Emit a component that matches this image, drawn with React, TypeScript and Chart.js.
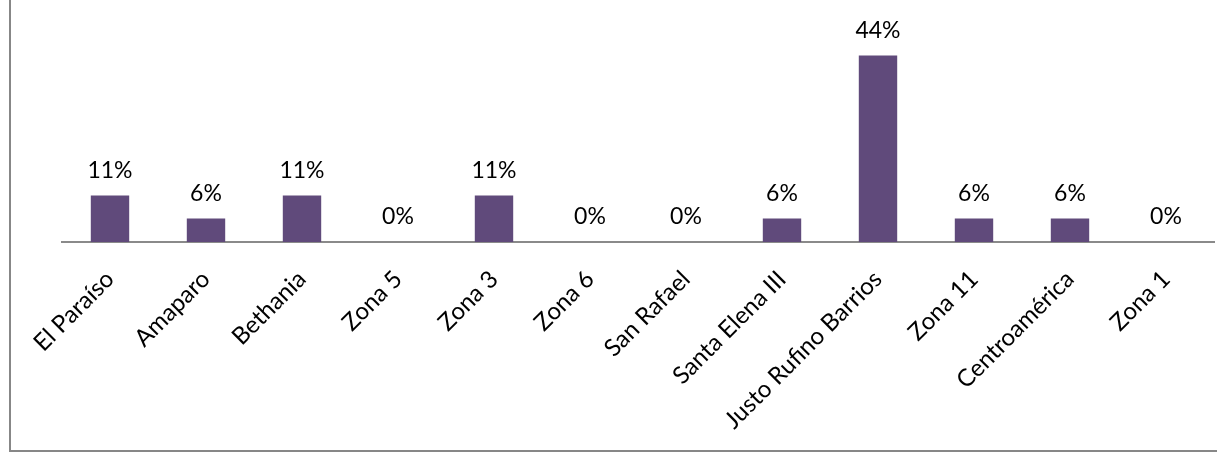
import React, { useEffect, useRef } from "react";
import { Chart, registerables } from "chart.js";

Chart.register(...registerables);

const categories = [
  "El Paraíso",
  "Amaparo",
  "Bethania",
  "Zona 5",
  "Zona 3",
  "Zona 6",
  "San Rafael",
  "Santa Elena III",
  "Justo Rufino Barrios",
  "Zona 11",
  "Centroamérica",
  "Zona 1",
];
const percentValues = [11.1, 5.6, 11.1, 0, 11.1, 0, 0, 5.6, 44.4, 5.6, 5.6, 0];
const valueLabels = ["11%", "6%", "11%", "0%", "11%", "0%", "0%", "6%", "44%", "6%", "6%", "0%"];

const FONT = "Lato, 'Open Sans', sans-serif";
const BAR_COLOR = "#604A7B";

const valueLabelPlugin = {
  id: "valueLabels",
  afterDatasetsDraw(chart: any) {
    const ctx = chart.ctx;
    const meta = chart.getDatasetMeta(0);
    ctx.save();
    ctx.font = `23px ${FONT}`;
    ctx.fillStyle = "#000000";
    ctx.textAlign = "center";
    ctx.textBaseline = "middle";
    meta.data.forEach((el: any, i: number) => {
      ctx.fillText(valueLabels[i], el.x, el.y - 25);
    });
    ctx.restore();
  },
};

export default function App() {
  const canvasRef = useRef<HTMLCanvasElement | null>(null);

  useEffect(() => {
    if (!canvasRef.current) return;
    const chart = new Chart(canvasRef.current, {
      type: "bar",
      data: {
        labels: categories,
        datasets: [
          {
            data: percentValues,
            backgroundColor: BAR_COLOR,
            borderWidth: 0,
            categoryPercentage: 1,
            barPercentage: 0.4,
          },
        ],
      },
      options: {
        animation: false,
        responsive: false,
        maintainAspectRatio: false,
        layout: { padding: { left: 62, right: 3, top: 32, bottom: 0 } },
        plugins: {
          legend: { display: false },
          tooltip: { enabled: false },
          title: { display: false },
        },
        scales: {
          x: {
            grid: { display: false },
            border: { display: true, color: "#8A8A8A", width: 2 },
            ticks: {
              autoSkip: false,
              minRotation: 45,
              maxRotation: 45,
              color: "#000000",
              font: { family: FONT, size: 24 },
              padding: 15,
            },
            afterFit: (scale: any) => {
              scale.height = 213;
            },
          },
          y: {
            display: false,
            min: 0,
            max: 50,
          },
        },
      },
      plugins: [valueLabelPlugin],
    });
    return () => chart.destroy();
  }, []);

  return (
    <div
      style={{
        position: "fixed",
        left: 0,
        top: 0,
        width: 1217,
        height: 455,
        background: "#ffffff",
        overflow: "hidden",
      }}
    >
      <div
        style={{
          position: "absolute",
          left: 9,
          top: -5,
          width: 1217,
          height: 457,
          border: "2px solid #878787",
          boxSizing: "border-box",
        }}
      />
      <canvas
        ref={canvasRef}
        width={1217}
        height={455}
        style={{ position: "absolute", left: 0, top: 0, width: 1217, height: 455 }}
      />
    </div>
  );
}
